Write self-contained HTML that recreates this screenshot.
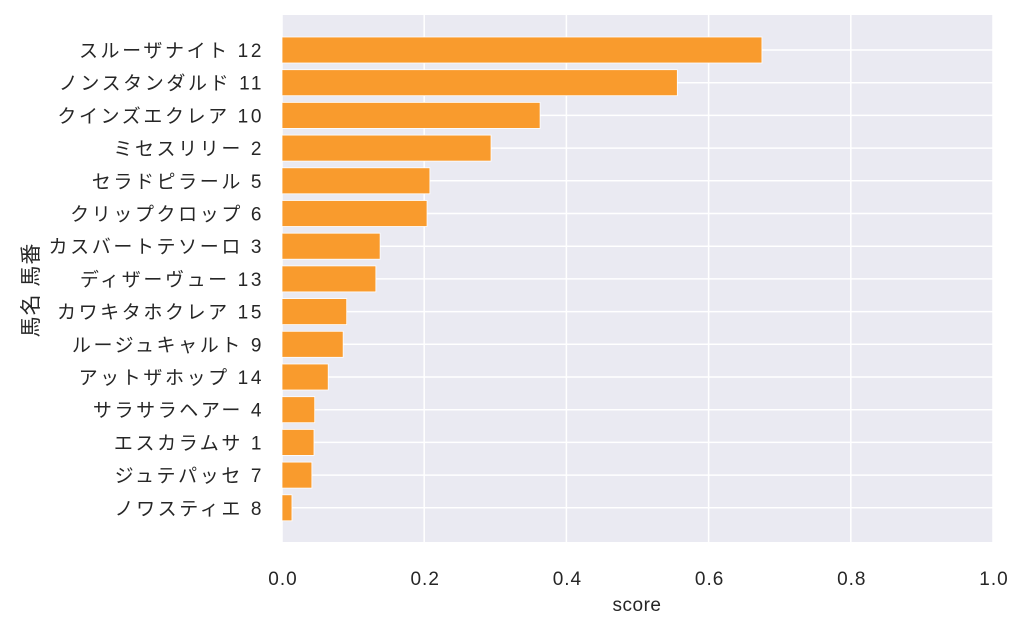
<!DOCTYPE html>
<html><head><meta charset="utf-8"><style>
body{margin:0;background:#fff;}
svg text{font-family:"Liberation Sans","Noto Sans CJK JP",sans-serif;fill:#262626;}
</style></head><body>
<svg width="1024" height="629" xmlns="http://www.w3.org/2000/svg">
<rect x="282" y="15" width="711" height="527" fill="#eaeaf2"/>
<g id="grid"></g><g id="bars"></g><g id="ylabels"></g><g id="xlabels"></g>
<text x="637" y="611" font-size="19" text-anchor="middle" letter-spacing="0.5">score</text>
<text transform="translate(38,290) rotate(-90)" font-size="21" text-anchor="middle" letter-spacing="1">馬名 馬番</text>
</svg>
<script>
const categories=["スルーザナイト 12","ノンスタンダルド 11","クインズエクレア 10","ミセスリリー 2","セラドピラール 5","クリップクロップ 6","カスバートテソーロ 3","ディザーヴュー 13","カワキタホクレア 15","ルージュキャルト 9","アットザホップ 14","サラサラヘアー 4","エスカラムサ 1","ジュテパッセ 7","ノワスティエ 8"];
const scores=[0.675,0.556,0.363,0.294,0.208,0.204,0.138,0.132,0.091,0.086,0.065,0.046,0.045,0.042,0.014];
const xTicks=[0,0.2,0.4,0.6,0.8,1.0];
const xTickLabels=["0.0","0.2","0.4","0.6","0.8","1.0"];
const NS="http://www.w3.org/2000/svg";
const X=v=>282+v*711;
const Y=i=>50+i*32.7;
function mk(t,a,p){const e=document.createElementNS(NS,t);for(const k in a)e.setAttribute(k,a[k]);p.appendChild(e);return e;}
const grid=document.getElementById('grid'),bars=document.getElementById('bars'),yl=document.getElementById('ylabels'),xl=document.getElementById('xlabels');
xTicks.forEach((t,i)=>{
  const l=mk('line',{x1:X(t),x2:X(t),y1:15,y2:542,stroke:'#fff','stroke-width':1.5},grid);
  
  
  const tx=mk('text',{x:X(t)+1,y:585,'font-size':19,'text-anchor':'middle','letter-spacing':1},xl);
  tx.textContent=xTickLabels[i];
  
  
});
categories.forEach((c,i)=>{
  const l=mk('line',{x1:282,x2:993,y1:Y(i),y2:Y(i),stroke:'#fff','stroke-width':1.5},grid);
  
  
  const r=mk('rect',{x:X(0),y:Y(i)-13,width:X(scores[i])-X(0),height:26,fill:'#f99b2d',stroke:'#fff','stroke-width':0.8},bars);
  
  
  const t=mk('text',{x:264,y:Y(i)+7,'font-size':19,'text-anchor':'end','letter-spacing':2.6},yl);
  t.textContent=c;
  
  
});
</script>
</body></html>
